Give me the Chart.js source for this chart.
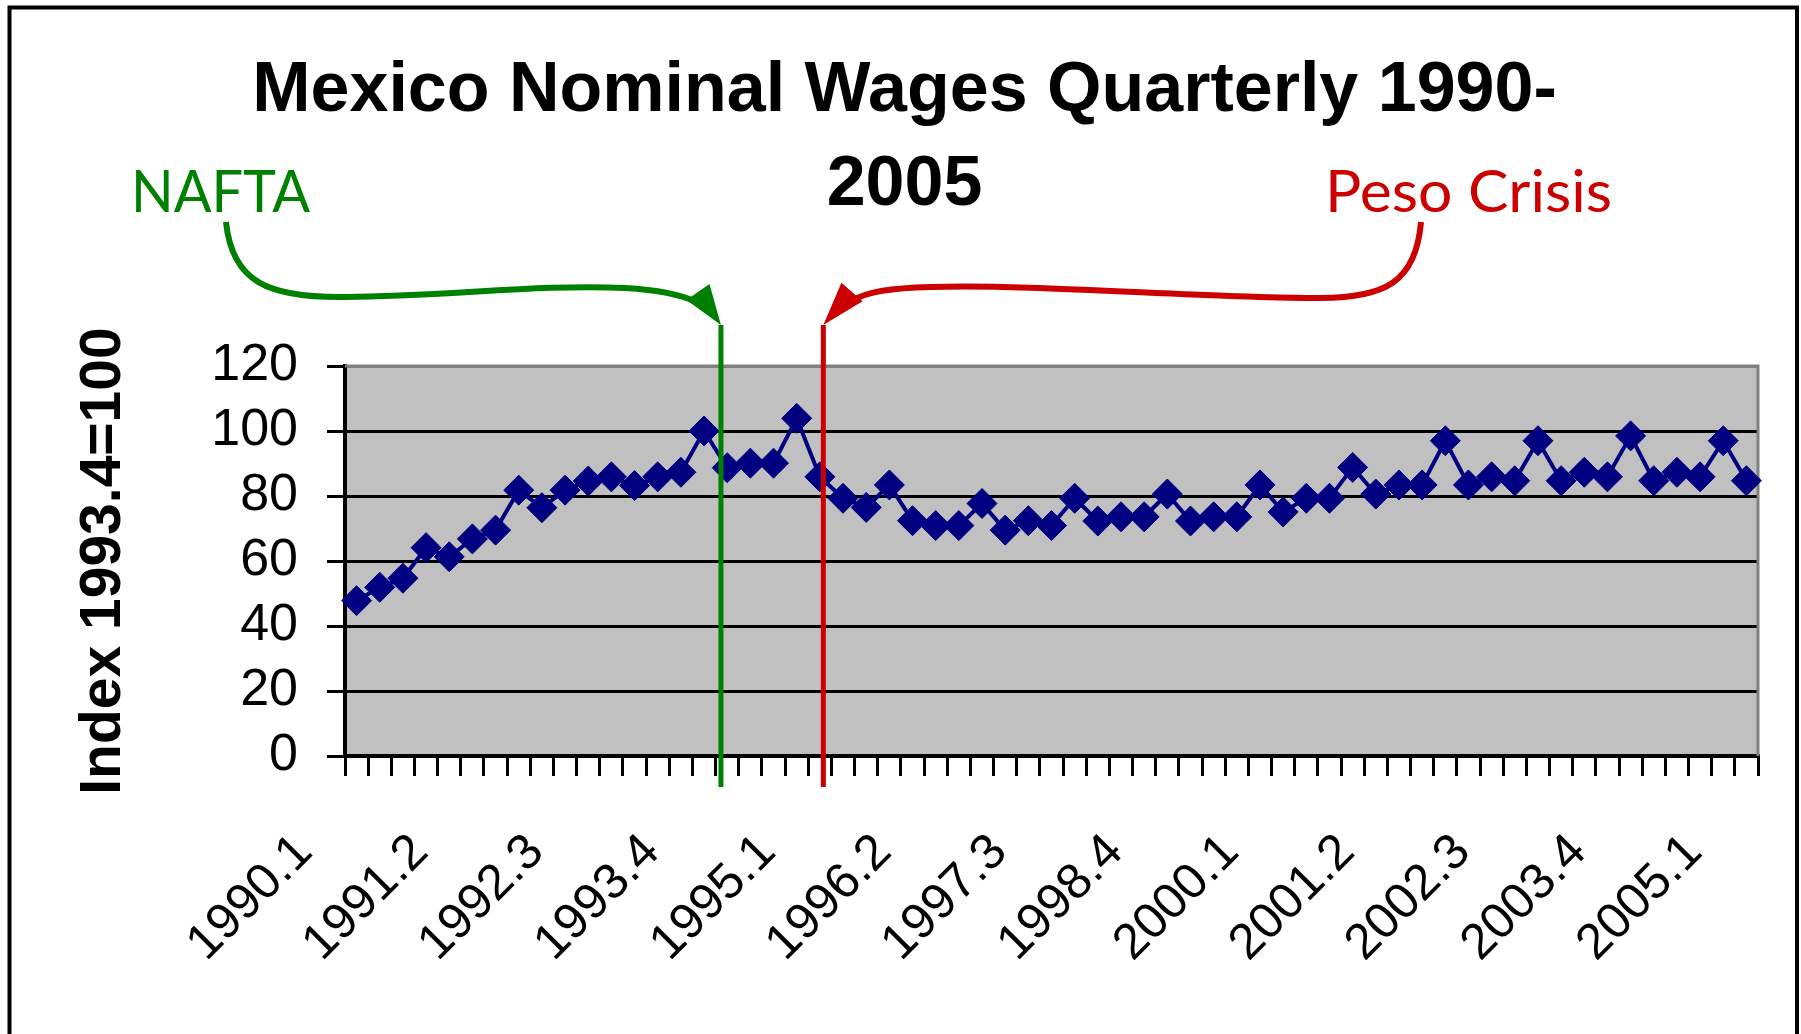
<!DOCTYPE html>
<html lang="en">
<head>
<meta charset="UTF-8">
<title>Mexico Nominal Wages Quarterly 1990-2005</title>
<script src="https://cdn.jsdelivr.net/npm/chart.js@4.4.1/dist/chart.umd.min.js"></script>
<style>
    html, body { margin: 0; padding: 0; background: #fff; }
    canvas { display: block; }
</style>
</head>
<body>
<canvas id="chart" width="1801" height="1034"></canvas>
<script>
    var quarters = [
        '1990.1', '1990.2', '1990.3', '1990.4', '1991.1', '1991.2', '1991.3', '1991.4',
        '1992.1', '1992.2', '1992.3', '1992.4', '1993.1', '1993.2', '1993.3', '1993.4',
        '1994.1', '1994.2', '1994.3', '1994.4', '1995.1', '1995.2', '1995.3', '1995.4',
        '1996.1', '1996.2', '1996.3', '1996.4', '1997.1', '1997.2', '1997.3', '1997.4',
        '1998.1', '1998.2', '1998.3', '1998.4', '1999.1', '1999.2', '1999.3', '1999.4',
        '2000.1', '2000.2', '2000.3', '2000.4', '2001.1', '2001.2', '2001.3', '2001.4',
        '2002.1', '2002.2', '2002.3', '2002.4', '2003.1', '2003.2', '2003.3', '2003.4',
        '2004.1', '2004.2', '2004.3', '2004.4', '2005.1'
    ];
    var wages = [
        47.8, 51.9, 54.7, 64.1, 61.3, 66.8, 69.5, 81.8, 76.4, 81.8,
        84.6, 85.9, 83.2, 85.9, 87.3, 100, 88.7, 90.1, 90.1, 103.9,
        85.9, 79.3, 76.5, 83.4, 72.4, 70.9, 70.9, 77.7, 69.5, 72.4,
        70.9, 79.3, 72.3, 73.6, 73.6, 80.6, 72.3, 73.6, 73.6, 83.4,
        75.1, 79.3, 79.3, 88.8, 80.6, 83.4, 83.4, 97.0, 83.4, 85.9,
        84.7, 97.0, 84.7, 87.3, 85.9, 98.5, 84.7, 87.3, 85.9, 97.0, 84.7
    ];
    var labelEvery = 5;
    var yMin = 0, yMax = 120, yStep = 20;
    // event markers, position given in category units
    var events = ['NAFTA', 'Peso Crisis'];
    var eventAt = [15.73, 20.15];
    var eventColor = ['#008000', '#cc0000'];

    var arial = '"Liberation Sans", Arial, sans-serif';

    function stretchText(ctx, text, x, y, width, color) {
        ctx.save();
        ctx.font = '58px Lato, "Liberation Sans", sans-serif';
        var w = ctx.measureText(text).width;
        ctx.translate(x, y);
        ctx.scale(width / w, 1);
        ctx.fillStyle = color;
        ctx.textBaseline = 'alphabetic';
        ctx.fillText(text, 0, 0);
        ctx.restore();
    }

    function arrowHead(ctx, bx, by, tx, ty, half, color) {
        var dx = tx - bx, dy = ty - by;
        var len = Math.sqrt(dx * dx + dy * dy);
        var px = -dy / len * half, py = dx / len * half;
        ctx.beginPath();
        ctx.moveTo(tx, ty);
        ctx.lineTo(bx + px, by + py);
        ctx.lineTo(bx - px, by - py);
        ctx.closePath();
        ctx.fillStyle = color;
        ctx.fill();
    }

    var decor = {
        id: 'decor',
        beforeDraw(chart) {
            const ctx = chart.ctx, a = chart.chartArea;
            ctx.save();
            ctx.fillStyle = '#fff';
            ctx.fillRect(0, 0, chart.width, chart.height);
            ctx.fillStyle = '#c0c0c0';
            ctx.fillRect(a.left, a.top, a.right - a.left, a.bottom - a.top);
            ctx.strokeStyle = '#000';
            ctx.lineWidth = 4;
            ctx.strokeRect(9.5, 7.5, 1787.5, 1100);
            ctx.restore();
        },
        beforeDatasetsDraw(chart) {
            const ctx = chart.ctx, a = chart.chartArea;
            ctx.save();
            ctx.strokeStyle = '#808080';
            ctx.lineWidth = 3;
            ctx.beginPath();
            ctx.moveTo(a.left, a.top);
            ctx.lineTo(a.right, a.top);
            ctx.lineTo(a.right, a.bottom);
            ctx.stroke();
            ctx.restore();
        },
        afterDraw(chart) {
            const ctx = chart.ctx, a = chart.chartArea, xs = chart.scales.x;
            const gx = xs.getPixelForValue(eventAt[0]);
            const rx = xs.getPixelForValue(eventAt[1]);
            const top = a.top - 41, bottom = a.bottom + 31;
            ctx.save();
            ctx.lineWidth = 5;
            ctx.lineCap = 'butt';
            [gx, rx].forEach(function (x, i) {
                ctx.strokeStyle = eventColor[i];
                ctx.beginPath();
                ctx.moveTo(x, top);
                ctx.lineTo(x, bottom);
                ctx.stroke();
            });

            ctx.lineWidth = 6;
            // green callout
            ctx.strokeStyle = eventColor[0];
            ctx.beginPath();
            ctx.moveTo(226, 222);
            ctx.bezierCurveTo(232, 282, 268, 298, 345, 297);
            ctx.bezierCurveTo(450, 296, 540, 284, 625, 288);
            ctx.bezierCurveTo(660, 290, 684, 296, 696, 302);
            ctx.stroke();
            arrowHead(ctx, 698, 292, gx, top, 14, eventColor[0]);

            // red callout
            ctx.strokeStyle = eventColor[1];
            ctx.beginPath();
            ctx.moveTo(1421, 222);
            ctx.bezierCurveTo(1416, 282, 1385, 298, 1320, 298);
            ctx.bezierCurveTo(1200, 298, 1040, 284, 930, 287);
            ctx.bezierCurveTo(890, 288, 866, 292, 854, 300);
            ctx.stroke();
            arrowHead(ctx, 852, 292, rx, top, 14, eventColor[1]);

            stretchText(ctx, events[0], 131, 212, 179, eventColor[0]);
            stretchText(ctx, events[1], 1325, 212, 287, eventColor[1]);
            ctx.restore();
        }
    };

    new Chart(document.getElementById('chart'), {
        type: 'line',
        data: {
            labels: quarters,
            datasets: [{
                data: wages,
                borderColor: '#000080',
                backgroundColor: '#000080',
                borderWidth: 4,
                tension: 0,
                pointStyle: 'rectRot',
                pointRadius: 15,
                pointBorderWidth: 1,
                pointBackgroundColor: '#000080',
                pointBorderColor: '#000080',
                clip: false
            }]
        },
        options: {
            responsive: false,
            animation: false,
            devicePixelRatio: 1,
            layout: { padding: { left: 51, right: 43, top: 0, bottom: 0 } },
            plugins: {
                legend: { display: false },
                tooltip: { enabled: false },
                title: {
                    display: true,
                    text: ['Mexico Nominal Wages Quarterly 1990-', '2005'],
                    color: '#000',
                    font: { family: arial, size: 70, weight: 'bold', lineHeight: 1.34 },
                    padding: { top: 45, bottom: 133.4 }
                }
            },
            scales: {
                x: {
                    offset: true,
                    afterFit: function (s) { s.height = 278; s.paddingLeft = 0; s.paddingRight = 0; },
                    grid: {
                        offset: true,
                        drawOnChartArea: false,
                        drawTicks: true,
                        tickLength: 20,
                        tickColor: '#000',
                        lineWidth: 3
                    },
                    border: { color: '#000', width: 4 },
                    ticks: {
                        autoSkip: false,
                        minRotation: 45,
                        maxRotation: 45,
                        padding: 47,
                        labelOffset: -52,
                        color: '#000',
                        font: { family: arial, size: 50 },
                        callback: function (v, i) { return i % labelEvery === 0 ? quarters[i] : ''; }
                    }
                },
                y: {
                    min: yMin,
                    max: yMax,
                    afterFit: function (s) { s.width = 294; s.paddingTop = 0; s.paddingBottom = 0; },
                    grid: {
                        color: function (c) { return c.tick && c.tick.value === yMax ? '#808080' : '#000'; },
                        tickColor: '#000',
                        lineWidth: 3,
                        tickLength: 18
                    },
                    border: { color: '#000', width: 4 },
                    ticks: {
                        stepSize: yStep,
                        autoSkip: false,
                        padding: 29,
                        color: '#000',
                        font: { family: arial, size: 52 }
                    },
                    title: {
                        display: true,
                        text: 'Index 1993.4=100',
                        color: '#000',
                        font: { family: arial, size: 57, weight: 'bold' },
                        padding: { top: 19, bottom: 0 }
                    }
                }
            }
        },
        plugins: [decor]
    });
</script>
</body>
</html>
